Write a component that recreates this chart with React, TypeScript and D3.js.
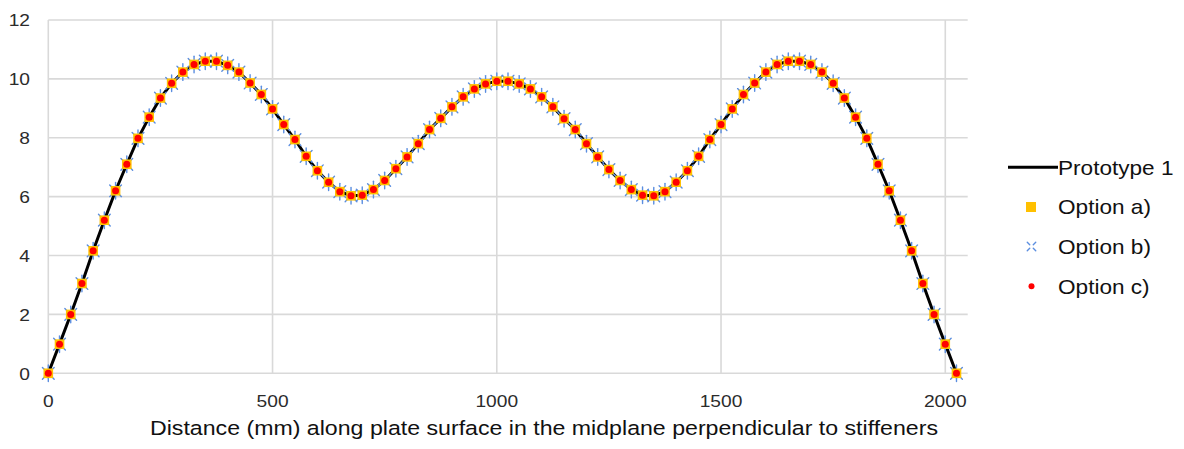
import React from 'react';
import * as d3 from 'd3';

const distance = [
  0, 25, 50, 75, 100, 125, 150, 175, 200, 225, 250, 275, 300, 325, 350, 375, 400, 425, 450, 475,
  500, 525, 550, 575, 600, 625, 650, 675, 700, 725, 750, 775, 800, 825, 850, 875, 900, 925, 950, 975,
  1000, 1025, 1050, 1075, 1100, 1125, 1150, 1175, 1200, 1225, 1250, 1275, 1300, 1325, 1350, 1375, 1400,
  1425, 1450, 1475, 1500, 1525, 1550, 1575, 1600, 1625, 1650, 1675, 1700, 1725, 1750, 1775, 1800, 1825,
  1850, 1875, 1900, 1925, 1950, 1975, 2000, 2025,
];

const prototype1 = [
  0, 0.99, 2.0, 3.05, 4.16, 5.2, 6.2, 7.1, 7.98, 8.7, 9.35, 9.85, 10.23, 10.49, 10.6, 10.6, 10.46, 10.23, 9.86, 9.47,
  8.98, 8.45, 7.94, 7.37, 6.88, 6.49, 6.17, 6.03, 6.05, 6.24, 6.55, 6.95, 7.35, 7.8, 8.28, 8.66, 9.05, 9.39, 9.66, 9.83,
  9.92, 9.92, 9.83, 9.66, 9.39, 9.05, 8.65, 8.28, 7.8, 7.35, 6.92, 6.55, 6.24, 6.05, 6.03, 6.17, 6.49,
  6.88, 7.37, 7.94, 8.45, 8.98, 9.47, 9.86, 10.23, 10.49, 10.6, 10.6, 10.49, 10.23, 9.85, 9.35, 8.7, 7.98,
  7.1, 6.2, 5.2, 4.16, 3.05, 2.0, 0.99, 0,
];

const optionA = [
  0, 0.99, 2.0, 3.05, 4.16, 5.2, 6.2, 7.1, 7.98, 8.7, 9.35, 9.85, 10.23, 10.49, 10.6, 10.6, 10.46, 10.23, 9.86, 9.47,
  8.98, 8.45, 7.94, 7.37, 6.88, 6.49, 6.17, 6.03, 6.05, 6.24, 6.55, 6.95, 7.35, 7.8, 8.28, 8.66, 9.05, 9.39, 9.66, 9.83,
  9.92, 9.92, 9.83, 9.66, 9.39, 9.05, 8.65, 8.28, 7.8, 7.35, 6.92, 6.55, 6.24, 6.05, 6.03, 6.17, 6.49,
  6.88, 7.37, 7.94, 8.45, 8.98, 9.47, 9.86, 10.23, 10.49, 10.6, 10.6, 10.49, 10.23, 9.85, 9.35, 8.7, 7.98,
  7.1, 6.2, 5.2, 4.16, 3.05, 2.0, 0.99, 0,
];

const optionB = [
  0, 0.99, 2.0, 3.05, 4.16, 5.2, 6.2, 7.1, 7.98, 8.7, 9.35, 9.85, 10.23, 10.49, 10.6, 10.6, 10.46, 10.23, 9.86, 9.47,
  8.98, 8.45, 7.94, 7.37, 6.88, 6.49, 6.17, 6.03, 6.05, 6.24, 6.55, 6.95, 7.35, 7.8, 8.28, 8.66, 9.05, 9.39, 9.66, 9.83,
  9.92, 9.92, 9.83, 9.66, 9.39, 9.05, 8.65, 8.28, 7.8, 7.35, 6.92, 6.55, 6.24, 6.05, 6.03, 6.17, 6.49,
  6.88, 7.37, 7.94, 8.45, 8.98, 9.47, 9.86, 10.23, 10.49, 10.6, 10.6, 10.49, 10.23, 9.85, 9.35, 8.7, 7.98,
  7.1, 6.2, 5.2, 4.16, 3.05, 2.0, 0.99, 0,
];

const optionC = [
  0, 0.99, 2.0, 3.05, 4.16, 5.2, 6.2, 7.1, 7.98, 8.7, 9.35, 9.85, 10.23, 10.49, 10.6, 10.6, 10.46, 10.23, 9.86, 9.47,
  8.98, 8.45, 7.94, 7.37, 6.88, 6.49, 6.17, 6.03, 6.05, 6.24, 6.55, 6.95, 7.35, 7.8, 8.28, 8.66, 9.05, 9.39, 9.66, 9.83,
  9.92, 9.92, 9.83, 9.66, 9.39, 9.05, 8.65, 8.28, 7.8, 7.35, 6.92, 6.55, 6.24, 6.05, 6.03, 6.17, 6.49,
  6.88, 7.37, 7.94, 8.45, 8.98, 9.47, 9.86, 10.23, 10.49, 10.6, 10.6, 10.49, 10.23, 9.85, 9.35, 8.7, 7.98,
  7.1, 6.2, 5.2, 4.16, 3.05, 2.0, 0.99, 0,
];

const xTicks = [0, 500, 1000, 1500, 2000];
const yTicks = [0, 2, 4, 6, 8, 10, 12];
const legendLabels = ['Prototype 1', 'Option a)', 'Option b)', 'Option c)'];
const xTitle = 'Distance (mm) along plate surface in the midplane perpendicular to stiffeners';

const FONT = "'Liberation Sans', Arial, sans-serif";
const SX = 1.13;

function Star({ cx, cy, r0, r1, color, angles }: { cx: number; cy: number; r0: number; r1: number; color: string; angles: number[] }) {
  return (
    <g stroke={color} strokeWidth={1.4} strokeLinecap="round">
      {angles.map((a) => {
        const rad = (a * Math.PI) / 180;
        return (
          <line
            key={a}
            x1={cx + r0 * Math.cos(rad)}
            y1={cy + r0 * Math.sin(rad)}
            x2={cx + r1 * Math.cos(rad)}
            y2={cy + r1 * Math.sin(rad)}
          />
        );
      })}
    </g>
  );
}

export default function App() {
  const W = 1184;
  const H = 449;
  const x = d3.scaleLinear().domain([0, 2050]).range([48.3, 967.7]);
  const y = d3.scaleLinear().domain([0, 12]).range([373.3, 20]);

  const line = d3
    .line<number>()
    .x((_, i) => x(distance[i]))
    .y((d) => y(d));

  const grid = '#d9d9d9';
  const orange = '#ffc000';
  const blue = '#5b8ee0';
  const red = '#ff0000';

  const legendY = [167.3, 207, 246.5, 286.3];
  const starAngles = [90, 270, 45, 135, 225, 315];

  return (
    <svg width={W} height={H} style={{ position: 'absolute', left: 0, top: 0, background: '#fff' }}>
      <rect x={0} y={0} width={W} height={H} fill="#fff" />
      {yTicks.map((t) => (
        <line key={'gy' + t} x1={x(0)} x2={x(2050)} y1={y(t)} y2={y(t)} stroke={grid} strokeWidth={1.6} />
      ))}
      {xTicks.map((t) => (
        <line key={'gx' + t} x1={x(t)} x2={x(t)} y1={y(0)} y2={y(12)} stroke={grid} strokeWidth={1.6} />
      ))}
      {yTicks.map((t) => (
        <text
          key={'ty' + t}
          transform={`translate(30,${y(t) + 6.3}) scale(${SX},1)`}
          textAnchor="end"
          fontFamily={FONT}
          fontSize={17}
          fill="#2b2b2b"
        >
          {t}
        </text>
      ))}
      {xTicks.map((t) => (
        <text
          key={'tx' + t}
          transform={`translate(${x(t)},407.3) scale(${SX},1)`}
          textAnchor="middle"
          fontFamily={FONT}
          fontSize={17}
          fill="#2b2b2b"
        >
          {t}
        </text>
      ))}
      <text
        x={150}
        y={435}
        fontFamily={FONT}
        fontSize={20.5}
        fill="#111"
        textLength={788}
        lengthAdjust="spacingAndGlyphs"
      >
        {xTitle}
      </text>

      <path d={line(prototype1) || ''} fill="none" stroke="#000" strokeWidth={3} strokeLinejoin="round" />
      {optionB.map((v, i) => (
        <Star key={'b' + i} cx={x(distance[i])} cy={y(v)} r0={5} r1={8.3} color={blue} angles={starAngles} />
      ))}
      {optionA.map((v, i) => (
        <rect key={'a' + i} x={x(distance[i]) - 4.8} y={y(v) - 4.8} width={9.6} height={9.6} fill={orange} />
      ))}
      {optionC.map((v, i) => (
        <circle key={'c' + i} cx={x(distance[i])} cy={y(v)} r={3.5} fill={red} />
      ))}

      <line x1={1008} x2={1058} y1={legendY[0]} y2={legendY[0]} stroke="#000" strokeWidth={3} />
      <rect x={1031 - 5} y={legendY[1] - 5} width={10} height={10} fill={orange} />
      <Star cx={1031.5} cy={legendY[2]} r0={2.5} r1={6} color={blue} angles={[45, 135, 225, 315]} />
      <circle cx={1031.5} cy={legendY[3]} r={3} fill={red} />
      {legendLabels.map((l, i) => (
        <text
          key={l}
          transform={`translate(1058,${legendY[i] + 7.3}) scale(${SX},1)`}
          fontFamily={FONT}
          fontSize={20}
          fill="#111"
        >
          {l}
        </text>
      ))}
    </svg>
  );
}
